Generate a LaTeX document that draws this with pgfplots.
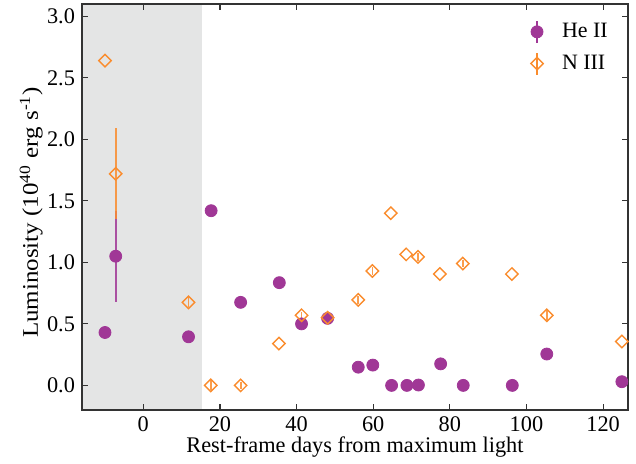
\documentclass[border=0pt]{standalone}
\usepackage{fontspec}
\setmainfont{Liberation Serif}
\newfontfamily\tickfont{Liberation Serif}
\usepackage{graphicx}
\usepackage{pgfplots}
\pgfplotsset{compat=1.18}
\definecolor{heii}{RGB}{160,55,150}
\definecolor{niii}{RGB}{250,140,45}
\definecolor{shade}{RGB}{228,229,229}

\begin{document}
\begin{tikzpicture}
\begin{axis}[
  scale only axis, width=273bp, height=203bp,
  xmin=-16, xmax=126.5, ymin=-0.2, ymax=3.1,
  xtick={0,20,...,120}, ytick={0,0.5,...,3.0},
  xticklabel={\mbox{\tickfont\pgfmathprintnumber[assume math mode=true]{\tick}}},
  yticklabel={\mbox{\tickfont\pgfmathprintnumber[fixed,fixed zerofill,precision=1,assume math mode=true]{\tick}}},
  tick align=inside, major tick length=3bp,
  axis line style={black!80, line width=0.6bp},
  every tick/.style={black!80, line width=0.6bp},
  tick label style={font=\tickfont\fontsize{11.2}{13}\selectfont},
  label style={font=\fontsize{11.2}{13}\selectfont},
  axis on top,
  xlabel={Rest-frame days from maximum light},
  ylabel={\scalebox{1.12}[1]{Luminosity (10\textsuperscript{40} erg s\textsuperscript{-1})}},
  xlabel style={at={(axis description cs:0.5,-0.105)}, anchor=base},
  ylabel style={at={(axis description cs:-0.0806,0.16)}, anchor=base west},
  legend style={draw=none, fill=none, at={(1,1)}, anchor=north east,
    xshift=-5bp, yshift=-5.4bp, font=\fontsize{11}{13}\selectfont,
    row sep=3.2bp},
  legend cell align=left,
]
\addplot[fill=shade, draw=none, forget plot]
  coordinates {(-16,-0.2) (15.2,-0.2) (15.2,3.1) (-16,3.1)} -- cycle;

\addplot[only marks, mark=*, mark size=3bp, color=heii,
  mark options={draw=heii, fill=heii},
  legend image code/.code={
    \path[draw=none, fill=none] (0.3cm,0cm) -- (0.3cm+10.5bp,0cm);
    \draw[heii, line width=0.9bp] (0.3cm,-5.5bp) -- (0.3cm,5.5bp);
    \fill[heii] (0.3cm,0cm) circle (3bp);},
  error bars/.cd, y dir=both, y explicit, error mark=none,
  error bar style={line width=0.9bp, heii, opacity=0.85}]
coordinates {
  (-10.0,0.43) +- (0,0.02)
  (-7.2,1.05) +- (0,0.37)
  (11.8,0.395) +- (0,0.03)
  (17.7,1.42) +- (0,0.02)
  (25.4,0.675) +- (0,0.02)
  (35.5,0.835) +- (0,0.02)
  (41.3,0.50) +- (0,0.02)
  (48.1,0.545) +- (0,0.02)
  (56.1,0.148) +- (0,0.01)
  (59.9,0.165) +- (0,0.01)
  (64.8,0.0) +- (0,0.01)
  (68.8,0.0) +- (0,0.01)
  (71.8,0.003) +- (0,0.01)
  (77.6,0.175) +- (0,0.01)
  (83.5,0.0) +- (0,0.01)
  (96.3,0.0) +- (0,0.01)
  (105.3,0.255) +- (0,0.01)
  (124.9,0.03) +- (0,0.01)
};
\addlegendentry{He II}

\addplot[only marks, mark=square, mark size=2.2bp, color=niii,
  mark options={draw=niii, fill=none, rotate=45, line width=0.7bp},
  legend image code/.code={
    \path[draw=none, fill=none] (0.3cm,0cm) -- (0.3cm+10.5bp,0cm);
    \draw[niii, line width=0.9bp] (0.3cm,-5.5bp) -- (0.3cm,5.5bp);
    \draw[niii, line width=0.7bp] (0.3cm,3.1bp) -- ++(3.1bp,-3.1bp)
      -- ++(-3.1bp,-3.1bp) -- ++(-3.1bp,3.1bp) -- cycle;},
  error bars/.cd, y dir=both, y explicit, error mark=none,
  error bar style={line width=0.9bp, niii, opacity=0.85}]
coordinates {
  (-10.0,2.64) +- (0,0.0)
  (-7.2,1.72) +- (0,0.37)
  (11.8,0.675) +- (0,0.04)
  (17.6,0.0) +- (0,0.04)
  (25.4,0.0) +- (0,0.03)
  (35.4,0.34) +- (0,0.0)
  (41.3,0.57) +- (0,0.03)
  (48.1,0.55) +- (0,0.02)
  (56.1,0.695) +- (0,0.03)
  (59.8,0.93) +- (0,0.03)
  (64.6,1.40) +- (0,0.0)
  (68.6,1.065) +- (0,0.0)
  (71.7,1.045) +- (0,0.03)
  (77.4,0.905) +- (0,0.0)
  (83.4,0.99) +- (0,0.03)
  (96.2,0.905) +- (0,0.0)
  (105.3,0.57) +- (0,0.04)
  (124.9,0.357) +- (0,0.0)
};
\addlegendentry{N III}
\end{axis}
\pgfresetboundingbox
\useasboundingbox ([shift={(-41bp,-27bp)}]current axis.south west)
  rectangle ([shift={(4bp,2bp)}]current axis.north east);
\end{tikzpicture}
\end{document}
